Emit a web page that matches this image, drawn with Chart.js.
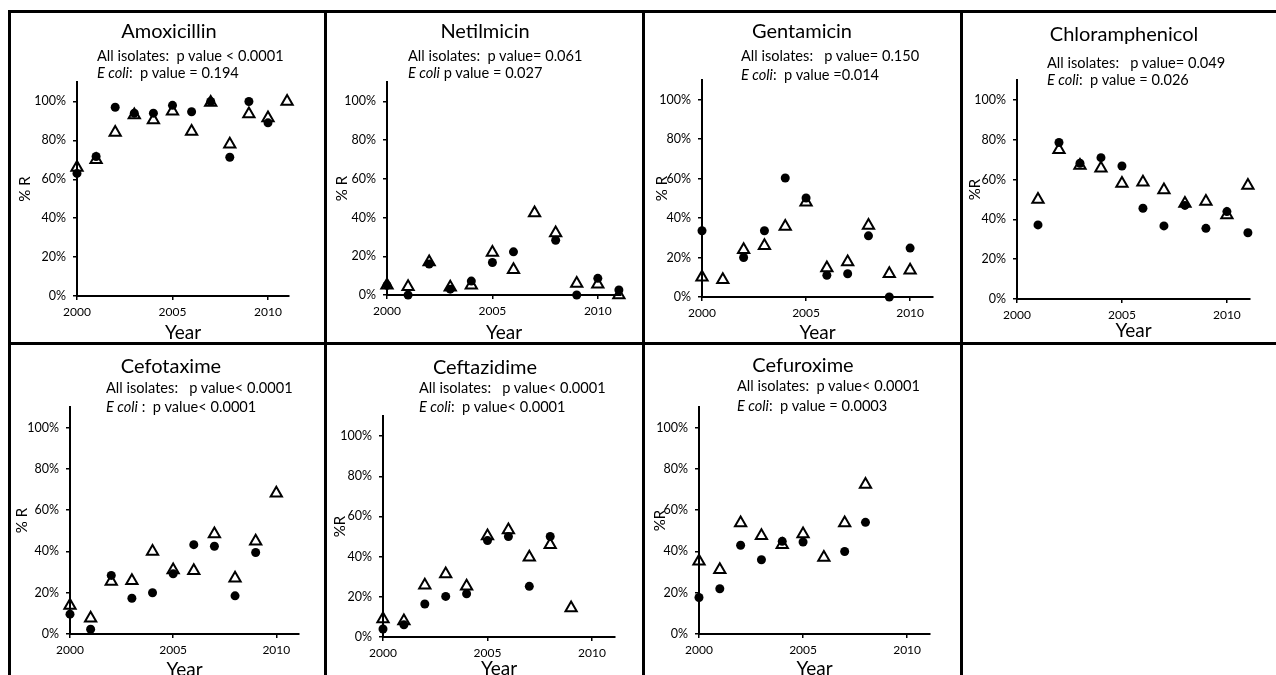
<!DOCTYPE html>
<html>
<head>
<meta charset="utf-8">
<script src="https://cdn.jsdelivr.net/npm/chart.js@4.4.1/dist/chart.umd.min.js"></script>
<style>
html,body{margin:0;padding:0;background:#fff;overflow:hidden;}
body{width:1276px;height:675px;position:relative;font-family:Lato,sans-serif;color:#000;}
.line{position:absolute;background:#000;}
.cell{position:absolute;}
.ttl{position:absolute;font-size:20px;transform:translate(-50%,-50%);white-space:pre;}
.pv{position:absolute;font-size:14.6px;transform:translateY(-50%);white-space:pre;}
</style>
</head>
<body>
<div class="line" style="left:8px;top:10px;width:1268px;height:3px"></div>
<div class="line" style="left:8px;top:10px;width:3px;height:665px"></div>
<div class="line" style="left:8px;top:342px;width:1268px;height:3px"></div>
<div class="line" style="left:324px;top:10px;width:3px;height:665px"></div>
<div class="line" style="left:642px;top:10px;width:3px;height:665px"></div>
<div class="line" style="left:960px;top:10px;width:3px;height:665px"></div>
<script>
// years on the x axis
const years = [2000, 2001, 2002, 2003, 2004, 2005, 2006, 2007, 2008, 2009, 2010, 2011];

// % resistant, all isolates (triangles) and E coli (dots)
const amoxAll   = [66, 70, 84, 93, 90.5, 95, 84.5, 99.5, 78, 93.5, 91.5, 100];
const amoxEcoli = [63, 71.7, 97, 94, 94, 98, 94.7, 100, 71.3, 100, 89, null];
const netAll    = [5, 4.3, 17, 4, 5, 22, 13, 42.4, 32, 6, 5.5, 0];
const netEcoli  = [5, 0, 16, 3, 7.2, 16.8, 22.3, null, 28.3, 0, 8.6, 2.6];
const genAll    = [10, 8.8, 24, 26, 35.8, 48, 14.7, 17.7, 36.3, 11.8, 13.5, null];
const genEcoli  = [33.6, null, 20, 33.6, 60.3, 50.2, 11, 11.8, 31, 0, 24.8, null];
const chlAll    = [null, 50, 75, 67, 65.7, 58, 58.6, 54.8, 48, 49, 42.2, 57];
const chlEcoli  = [null, 37.2, 78.6, 68.2, 71, 66.8, 45.6, 36.7, 47, 35.5, 43.9, 33.3];
const ctxAll    = [13.8, 7.6, 25.4, 25.8, 40, 31, 30.6, 48.5, 27, 45, 68.2, null];
const ctxEcoli  = [9.6, 2.3, 28.4, 17.3, 20, 29.2, 43.3, 42.5, 18.5, 39.5, null, null];
const cazAll    = [9, 8, 25.7, 31.3, 25.2, 50.3, 53.3, 39.7, 45.9, 14.4, null, null];
const cazEcoli  = [4, 6.1, 16.4, 20.2, 21.5, 48, 50, 25.2, 50, null, null, null];
const cxmAll    = [35.2, 31.1, 53.8, 47.6, 43.3, 48.5, 37.1, 53.8, 72.4, null, null, null];
const cxmEcoli  = [17.7, 21.9, 43, 36, 44.9, 44.6, null, 40, 54.1, null, null, null];

const allSeries = [amoxAll, netAll, genAll, chlAll, ctxAll, cazAll, cxmAll];
const ecoliSeries = [amoxEcoli, netEcoli, genEcoli, chlEcoli, ctxEcoli, cazEcoli, cxmEcoli];

// texts
const drugNames = ['Amoxicillin', 'Netilmicin', 'Gentamicin', 'Chloramphenicol', 'Cefotaxime', 'Ceftazidime', 'Cefuroxime'];
const allLines = [
  'All isolates:  p value < 0.0001',
  'All isolates:  p value= 0.061',
  'All isolates:   p value= 0.150',
  'All isolates:   p value= 0.049',
  'All isolates:   p value< 0.0001',
  'All isolates:   p value< 0.0001',
  'All isolates:  p value< 0.0001'
];
const ecoliLines = [
  ':  p value = 0.194',
  ' p value = 0.027',
  ':  p value =0.014',
  ':  p value = 0.026',
  ' :  p value< 0.0001',
  ':  p value< 0.0001',
  ':  p value = 0.0003'
];
const yTitles = ['% R', '% R', '% R', '%R', '% R', '%R', '%R'];
const yTickStep = 20;
const xTickStep = 5;

// page layout of each panel (px)
const boxes = [
  {cx:11,  cy:13,  cw:313, ch:336, axisX:77,   topY:82,  zeroY:296, endX:289,  yTitleX:25,  yearY:333, titleX:169,  titleY:30,  pvX:97,   pv1Y:55,  pv2Y:72},
  {cx:327, cy:13,  cw:315, ch:336, axisX:387,  topY:82,  zeroY:295, endX:621,  yTitleX:342, yearY:333, titleX:485,  titleY:30,  pvX:408,  pv1Y:55,  pv2Y:72},
  {cx:645, cy:13,  cw:315, ch:336, axisX:702,  topY:80,  zeroY:297, endX:933,  yTitleX:662, yearY:333, titleX:802,  titleY:30,  pvX:741,  pv1Y:55,  pv2Y:74},
  {cx:963, cy:13,  cw:313, ch:336, axisX:1017, topY:80,  zeroY:299, endX:1250, yTitleX:975, yearY:331, titleX:1124, titleY:33,  pvX:1047, pv1Y:62,  pv2Y:79},
  {cx:11,  cy:345, cw:313, ch:340, axisX:70,   topY:407, zeroY:634, endX:299,  yTitleX:22,  yearY:670, titleX:171,  titleY:365, pvX:106,  pv1Y:387, pv2Y:406},
  {cx:327, cy:345, cw:315, ch:340, axisX:383,  topY:416, zeroY:637, endX:615,  yTitleX:340, yearY:669, titleX:485,  titleY:366, pvX:419,  pv1Y:387, pv2Y:406},
  {cx:645, cy:345, cw:315, ch:340, axisX:699,  topY:407, zeroY:634, endX:930,  yTitleX:660, yearY:669, titleX:803,  titleY:364, pvX:737,  pv1Y:385, pv2Y:405}
];
const yearSize = 19;
const yTitleSize = 15;

Chart.defaults.font.family = 'Lato, sans-serif';
Chart.defaults.color = '#000';

function pts(vals) {
  const out = [];
  for (let i = 0; i < years.length; i++) {
    if (vals[i] !== null) out.push({x: years[i], y: vals[i]});
  }
  return out;
}

function addText(cls, x, y, parts) {
  const d = document.createElement('div');
  d.className = cls;
  d.style.left = x + 'px';
  d.style.top = y + 'px';
  parts.forEach(function(p) {
    const s = document.createElement(p.italic ? 'i' : 'span');
    s.textContent = p.t;
    d.appendChild(s);
  });
  document.body.appendChild(d);
}

for (let p = 0; p < drugNames.length; p++) {
  const b = boxes[p];
  const cell = document.createElement('div');
  cell.className = 'cell';
  cell.style.left = b.cx + 'px';
  cell.style.top = b.cy + 'px';
  const cv = document.createElement('canvas');
  cv.width = b.cw;
  cv.height = b.ch;
  cv.style.width = b.cw + 'px';
  cv.style.height = b.ch + 'px';
  cell.appendChild(cv);
  document.body.appendChild(cell);

  const halfYear = yearSize * 1.2 / 2;
  const padLeft = b.yTitleX - b.cx - yTitleSize * 0.6;
  const yw = b.axisX - b.cx - padLeft;
  const xh = b.yearY + halfYear - b.zeroY;

  new Chart(cv, {
    type: 'scatter',
    data: {
      datasets: [{
        data: pts(allSeries[p]),
        pointStyle: 'triangle',
        pointRadius: 6.5,
        borderColor: '#000',
        borderWidth: 2,
        backgroundColor: 'rgba(0,0,0,0)',
        clip: false
      }, {
        data: pts(ecoliSeries[p]),
        pointStyle: 'circle',
        pointRadius: 4.5,
        borderWidth: 0,
        backgroundColor: '#000',
        clip: false
      }]
    },
    options: {
      responsive: false,
      animation: false,
      events: [],
      layout: {
        padding: {left: padLeft, top: b.topY - b.cy, right: b.cx + b.cw - b.endX, bottom: b.cy + b.ch - (b.yearY + halfYear)}
      },
      plugins: {legend: {display: false}, tooltip: {enabled: false}},
      scales: {
        x: {
          type: 'linear',
          min: 2000,
          max: 2011.1,
          afterFit: function(s) { s.height = xh; },
          border: {color: '#000', width: 2},
          grid: {drawOnChartArea: false, color: '#000', tickLength: 4, lineWidth: 1.5},
          ticks: {stepSize: xTickStep, includeBounds: false, callback: v => String(v), font: {size: 12}, padding: 5, maxRotation: 0},
          title: {display: true, text: 'Year', font: {size: yearSize}, padding: 0}
        },
        y: {
          min: 0,
          max: 110,
          afterFit: function(s) { s.width = yw; },
          border: {color: '#000', width: 2},
          grid: {drawOnChartArea: false, color: '#000', tickLength: 4, lineWidth: 1.5},
          ticks: {stepSize: yTickStep, includeBounds: false, callback: v => v + '%', font: {size: 12.5}, padding: 7},
          title: {display: true, text: yTitles[p], font: {size: yTitleSize}, padding: 0}
        }
      }
    }
  });

  addText('ttl', b.titleX, b.titleY, [{t: drugNames[p]}]);
  addText('pv', b.pvX, b.pv1Y, [{t: allLines[p]}]);
  addText('pv', b.pvX, b.pv2Y, [{t: 'E coli', italic: true}, {t: ecoliLines[p]}]);
}
</script>
</body>
</html>
